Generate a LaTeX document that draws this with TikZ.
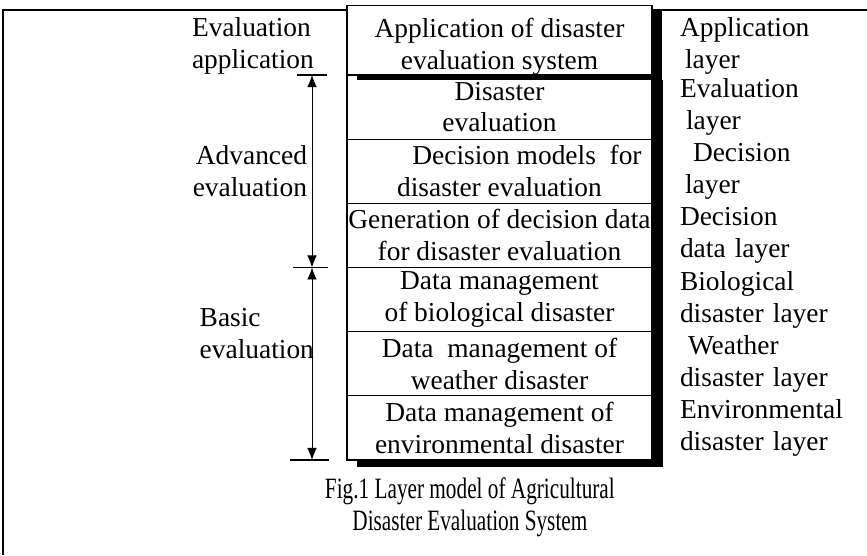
\documentclass[tikz,border=0pt]{standalone}
\usepackage{fontspec}
\setmainfont{Liberation Serif}
\newfontfamily\capfamily[FakeStretch=0.72]{Liberation Serif}
\usetikzlibrary{positioning,arrows.meta}

\newcommand{\lyrfont}{\fontsize{19.5}{22.7}\selectfont}

\begin{document}
\begin{tikzpicture}[on grid,auto,node distance=1.604cm,
    layer/.style={draw,rectangle,fill=white,line width=0.8pt,minimum width=7.625cm,minimum height=1.604cm,inner sep=0pt,outer sep=0pt,align=center,font=\lyrfont},
    side/.style={text width=4.2cm,align=left,inner sep=0pt,font=\lyrfont},
    shade/.style={fill=black},
    span/.style={{Latex[length=3mm,width=2.4mm]}-{Latex[length=3mm,width=2.4mm]},line width=0.6pt},
    tick/.style={line width=0.8pt}]
   \useasboundingbox (0,0) rectangle (21.675,-13.875);
   \draw[line width=0.8pt] (0.075,-13.875) |- (21.675,-0.25);

   % layer stack
   \node[layer] (app) [minimum height=1.5cm] at (12.4875,-1) {\rule{0pt}{0.8cm}Application of disaster\\ evaluation system};
   \node[layer] (eval) [below=1.677cm of app] {Disaster\\ evaluation};
   \node[layer] (dec)  [below=of eval] {\hspace*{1.375cm}Decision models~ for\\ disaster evaluation};
   \node[layer] (gen)  [below=of dec] {Generation of decision data\\ for disaster evaluation};
   \node[layer] (bio)  [below=of gen] {Data management\\ of biological disaster};
   \node[layer] (wth)  [below=of bio] {Data~ management of\\ weather disaster};
   \node[layer] (env)  [below=of wth] {Data management of\\ environmental disaster};

   % shadows
   \fill[shade] ([yshift=-0.1cm]app.north east) rectangle ([shift={(0.25,-0.125)}]app.south east);
   \fill[shade] ([xshift=0.25cm]app.south west) rectangle ([yshift=-0.125cm]app.south east);
   \fill[shade] ([yshift=-0.125cm]eval.north east) rectangle ([shift={(0.275,-0.175)}]env.south east);
   \fill[shade] ([xshift=0.25cm]env.south west) rectangle ([yshift=-0.175cm]env.south east);

   % layer names
   \node[side] (rapp)  [right=6.6125cm of app, yshift=-0.15cm] {Application\\ \hspace*{0.125cm}layer};
   \node[side] (reval) [right=6.6125cm of eval] {Evaluation\\ \hspace*{0.15cm}layer};
   \node[side] (rdec)  [right=6.6125cm of dec] {\hspace*{0.325cm}Decision\\ \hspace*{0.125cm}layer};
   \node[side] (rgen)  [right=6.6125cm of gen] {Decision\\ data layer};
   \node[side] (rbio)  [right=6.6125cm of bio] {Biological\\ disaster layer};
   \node[side] (rwth)  [right=6.6125cm of wth] {\hspace*{0.2cm}Weather\\ disaster layer};
   \node[side] (renv)  [right=6.6125cm of env] {Environmental\\ disaster layer};

   % evaluation levels
   \node[side] (lapp) [left=5.5875cm of app, yshift=-0.15cm] {Evaluation\\ application};
   \node[side] (ladv) [left=6.9125cm of dec, align=right] {Advanced\\ evaluation};
   \node[side] (lbas) [left=3.2875cm of bio.south, yshift=-0.05cm] {Basic\\ evaluation};

   \coordinate (advtop) at ([xshift=-4.6875cm]eval.north);
   \coordinate (advbot) at ([xshift=-4.6875cm]gen.south);
   \coordinate (basbot) at ([xshift=-4.6875cm]env.south);
   \draw[span] (advtop) -- (advbot);
   \draw[span] (advbot) -- (basbot);
   \draw[tick] ([xshift=-0.375cm]advtop) -- ([xshift=0.375cm]advtop);
   \draw[tick] ([xshift=-0.475cm]advbot) -- ([xshift=0.4cm]advbot);
   \draw[tick] ([xshift=-0.55cm]basbot) -- ([xshift=0.425cm]basbot);

   \node (cap) [below=1.99cm of env, xshift=-0.74cm, align=center, font=\capfamily\fontsize{21}{23}\selectfont] {Fig.1 Layer model of Agricultural\\ Disaster Evaluation System};
\end{tikzpicture}
\end{document}
